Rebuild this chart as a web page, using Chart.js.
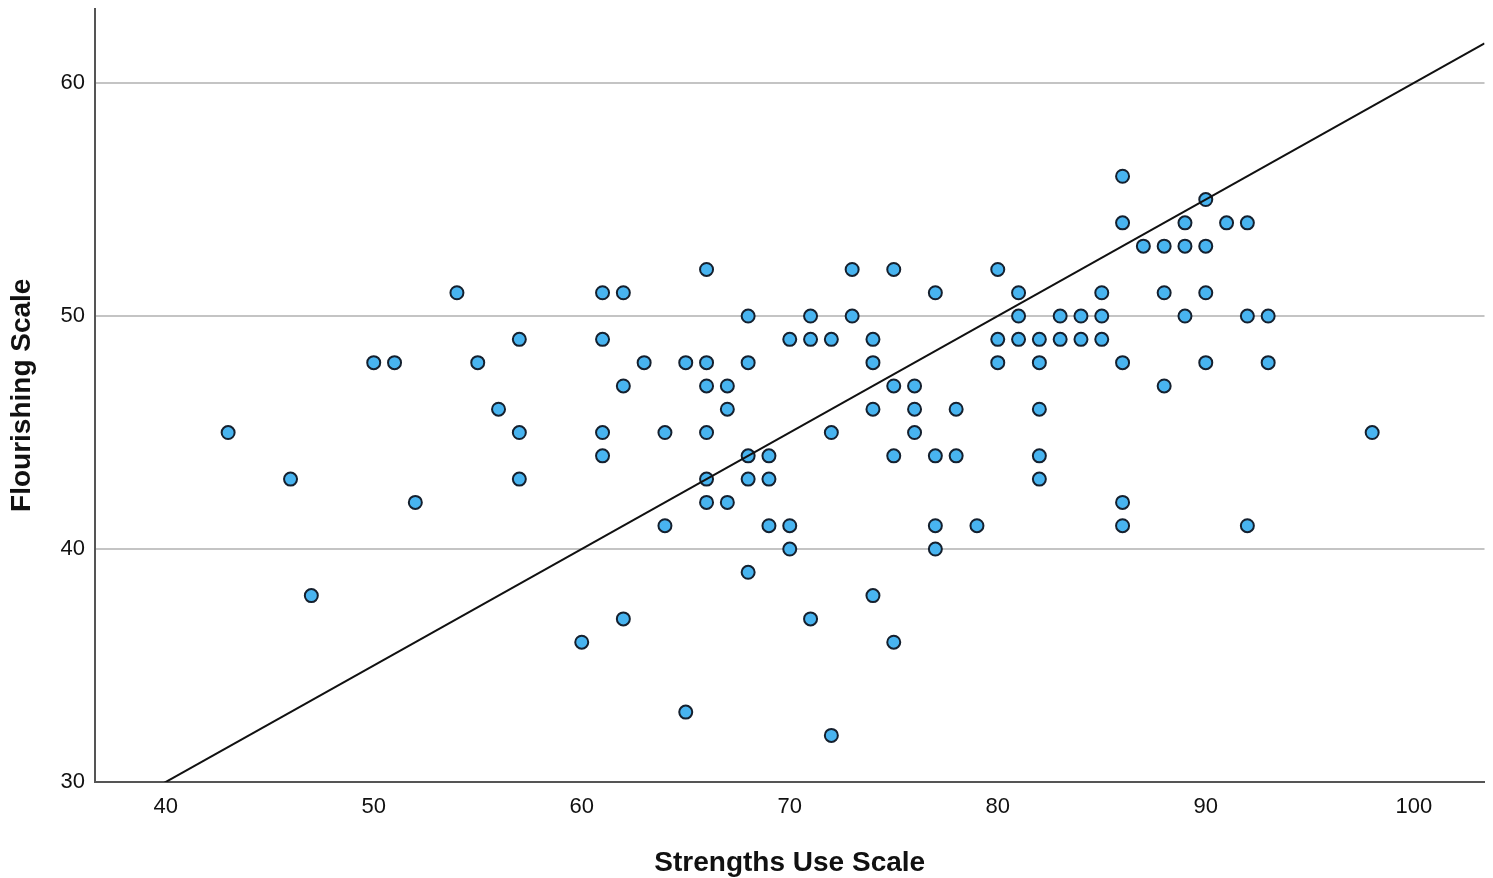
<!DOCTYPE html>
<html>
<head>
<meta charset="utf-8">
<script src="https://cdn.jsdelivr.net/npm/chart.js@4/dist/chart.umd.min.js"></script>
<style>
html,body{margin:0;padding:0;background:#fff;}
#c{display:block;}
</style>
</head>
<body>
<canvas id="c" width="1493" height="878"></canvas>
<script>
// Strengths Use Scale (x) values
const strengthsUse = [43,46,47,50,51,52,54,55,56,57,57,57,60,61,61,61,61,62,62,62,63,64,64,65,65,
  66,66,66,66,66,66,67,67,67,68,68,68,68,68,69,69,69,70,70,70,71,71,71,72,72,72,73,73,
  74,74,74,74,75,75,75,75,76,76,76,77,77,77,77,78,78,79,80,80,80,81,81,81,
  82,82,82,82,82,83,83,84,84,85,85,85,86,86,86,86,86,87,88,88,88,89,89,89,
  90,90,90,90,91,92,92,92,93,93,98];
// Flourishing Scale (y) values
const flourishing = [45,43,38,48,48,42,51,48,46,49,45,43,36,51,49,45,44,51,47,37,48,45,41,48,33,
  52,48,47,45,43,42,47,46,42,50,48,44,43,39,44,43,41,49,41,40,50,49,37,49,45,32,52,50,
  49,48,46,38,52,47,44,36,47,46,45,51,44,41,40,46,44,41,52,49,48,51,50,49,
  49,48,46,44,43,50,49,50,49,51,50,49,56,54,48,42,41,53,53,51,47,54,53,50,
  55,53,51,48,54,54,50,41,50,48,45];
const xTicks = [40,50,60,70,80,90,100];
const yTicks = [30,40,50,60];
const xTitle = "Strengths Use Scale";
const yTitle = "Flourishing Scale";
const xRange = [36.6, 103.4];
const yRange = [30, 63.2];
// fit line as drawn in the reference
const fitIntercept = 10;
const fitSlope = 0.5;

const points = strengthsUse.map((x,i)=>({x:x, y:flourishing[i]}));
const fitLine = [xRange[0], xRange[1]].map(x=>({x:x, y:fitIntercept+fitSlope*x}));

const FONT = "'Liberation Sans', Arial, sans-serif";

new Chart(document.getElementById('c'), {
  type: 'scatter',
  data: {
    datasets: [
      {
        type: 'line',
        data: fitLine,
        borderColor: '#111',
        borderWidth: 2,
        pointRadius: 0,
        fill: false,
        order: 0
      },
      {
        data: points,
        backgroundColor: '#48b4f0',
        borderColor: '#15202e',
        borderWidth: 2,
        pointRadius: 6.5,
        pointHoverRadius: 6.5,
        order: 1
      }
    ]
  },
  options: {
    responsive: false,
    animation: false,
    devicePixelRatio: 1,
    layout: { padding: { left: 0, top: 3, right: 4, bottom: 0 } },
    plugins: { legend: { display: false }, tooltip: { enabled: false } },
    scales: {
      x: {
        type: 'linear',
        min: xRange[0], max: xRange[1],
        afterBuildTicks: s => { s.ticks = xTicks.map(v=>({value:v})); },
        afterFit: s => { s.height = 96; s.paddingLeft = 0; s.paddingRight = 0; },
        grid: { display: false, drawTicks: false },
        border: { display: true, color: '#555', width: 2 },
        ticks: { color: '#111', font: { family: FONT, size: 22 }, padding: 12, maxRotation: 0 },
        title: { display: true, text: xTitle, color: '#111', font: { family: FONT, size: 28, weight: 'bold' }, padding: { top: 0, bottom: -2 } }
      },
      y: {
        type: 'linear',
        min: yRange[0], max: yRange[1],
        afterBuildTicks: s => { s.ticks = yTicks.map(v=>({value:v})); },
        afterFit: s => { s.width = 95; s.paddingTop = 0; s.paddingBottom = 0; },
        grid: { color: '#c4c4c4', lineWidth: 2, drawTicks: false },
        border: { display: true, color: '#555', width: 2 },
        ticks: { color: '#111', font: { family: FONT, size: 22 }, padding: 10 },
        title: { display: true, text: yTitle, color: '#111', font: { family: FONT, size: 28, weight: 'bold' }, padding: { top: 5, bottom: 0 } }
      }
    }
  }
});
</script>
</body>
</html>
